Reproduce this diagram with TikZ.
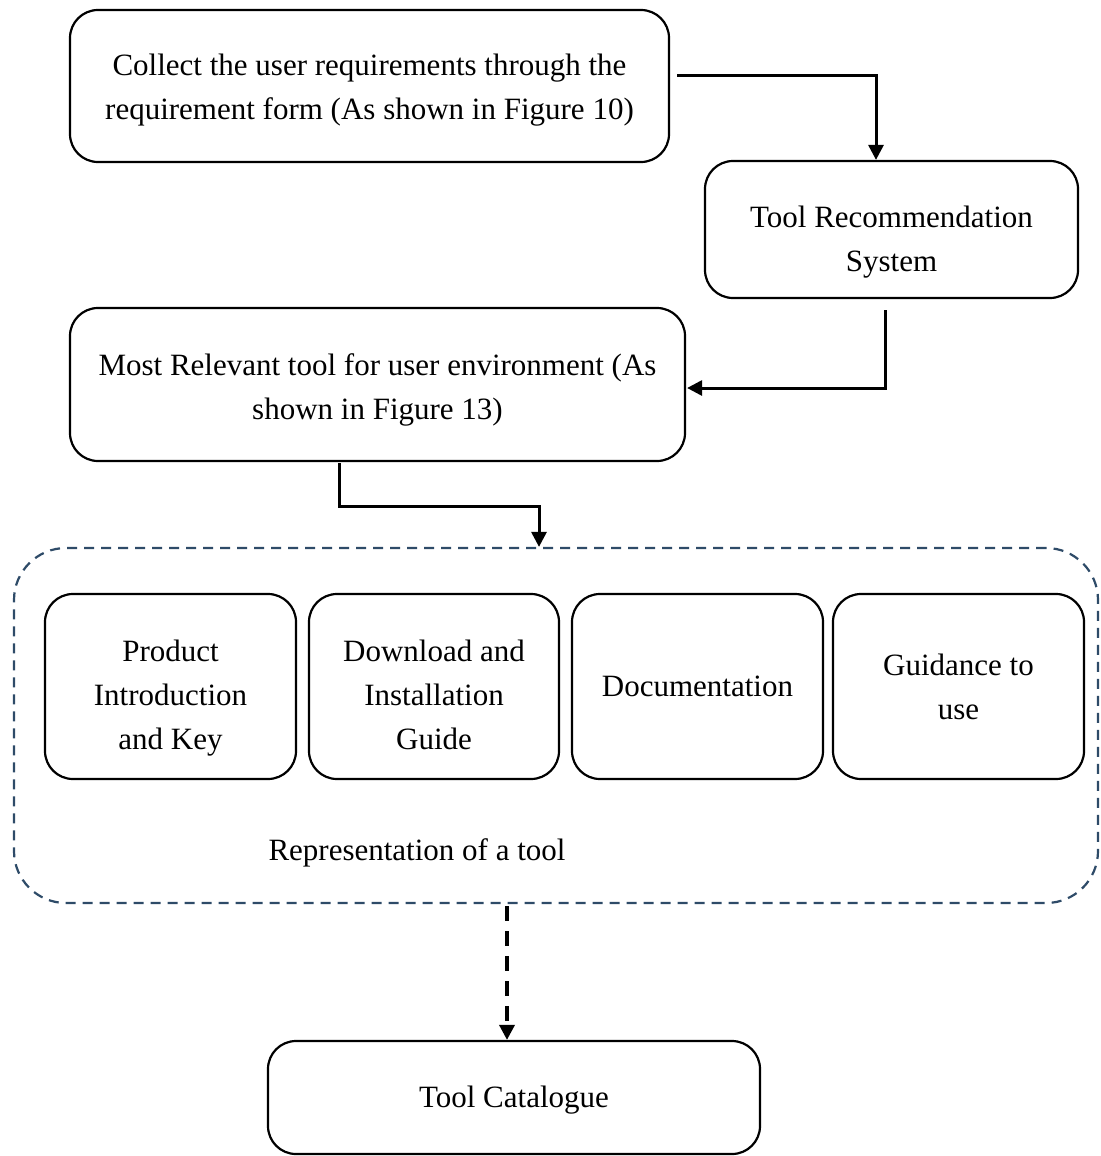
\documentclass[tikz,border=0pt]{standalone}
\usepackage{fontspec}
\setmainfont{Liberation Serif}
\usetikzlibrary{arrows.meta,calc}
\definecolor{slateline}{RGB}{46,75,104}
\begin{document}
\begin{tikzpicture}[x=0.5pt,y=-0.5pt,
  font=\fontsize{15.5}{22}\selectfont,
  box/.style={draw=black,line width=1.1pt,rounded corners=14pt,inner sep=0pt},
  txt/.style={align=center,inner sep=0pt},
  flow/.style={line width=1.5pt,-{Triangle[length=7.5pt,width=7.5pt]}},
  dflow/.style={line width=1.7pt,dash pattern=on 7.5pt off 5pt,-{Triangle[length=7.5pt,width=7.5pt]}},
  group/.style={draw=slateline,line width=1.1pt,dash pattern=on 5pt off 3.5pt,rounded corners=26pt,inner sep=0pt}]
\useasboundingbox (0,0) rectangle (1100,1156);

% main flow boxes
\node[box,minimum width=299.5pt,minimum height=76pt] (collect) at (369.5,86) {};
\node[txt] (collecttxt) at ($(collect)+(0,4)$)
  {Collect the user requirements through the\\requirement form (As shown in Figure 10)};
\node[box,minimum width=186.5pt,minimum height=68.5pt] (recsys) at (891.5,229.5) {};
\node[txt] (recsystxt) at ($(recsys)+(0,13)$) {Tool Recommendation\\System};
\node[box,minimum width=307.5pt,minimum height=76.5pt] (relevant) at (377.5,384.5) {};
\node[txt] (relevanttxt) at ($(relevant)+(0,5)$)
  {Most Relevant tool for user environment (As\\shown in Figure 13)};

% grouping frame for the parts of a tool
\node[group,minimum width=542pt,minimum height=177.5pt] (rep) at (556,725.5) {};
\node[box,minimum width=125.5pt,minimum height=92.5pt] (intro) at (170.5,686.5) {};
\node[txt] (introtxt) at ($(intro)+(0,12)$) {Product\\Introduction\\and Key};
\node[box,minimum width=125pt,minimum height=92.5pt] (install) at (434,686.5) {};
\node[txt] (installtxt) at ($(install)+(0,8)$) {Download and\\Installation\\Guide};
\node[box,minimum width=125.5pt,minimum height=92.5pt] (docs) at (697.5,686.5) {};
\node[txt] (docstxt) at ($(docs)+(0,0)$) {Documentation};
\node[box,minimum width=125.5pt,minimum height=92.5pt] (guide) at (958.5,686.5) {};
\node[txt] (guidetxt) at ($(guide)+(0,0)$) {Guidance to\\use};
\node[txt] (replabel) at (417,853) {Representation of a tool};

% catalogue
\node[box,minimum width=246pt,minimum height=56.5pt] (cat) at (514,1097.5) {};
\node[txt] (cattxt) at ($(cat)+(0,3)$) {Tool Catalogue};

% connectors
\draw[flow] ($(collect.east)+(7,-10)$) -| ($(recsys.north)+(-15.5,0)$);
\draw[flow] ($(recsys.south)+(-6.5,11)$) |- ($(relevant.east)+(1,3.5)$);
\draw[flow] ($(relevant.south)+(-38.5,1)$) -- ++(0,43) -| ($(rep.north)+(-17,0)$);
\draw[dflow] ($(rep.south)+(-49,2)$) -- ($(cat.north)+(-7,0)$);
\end{tikzpicture}
\end{document}
